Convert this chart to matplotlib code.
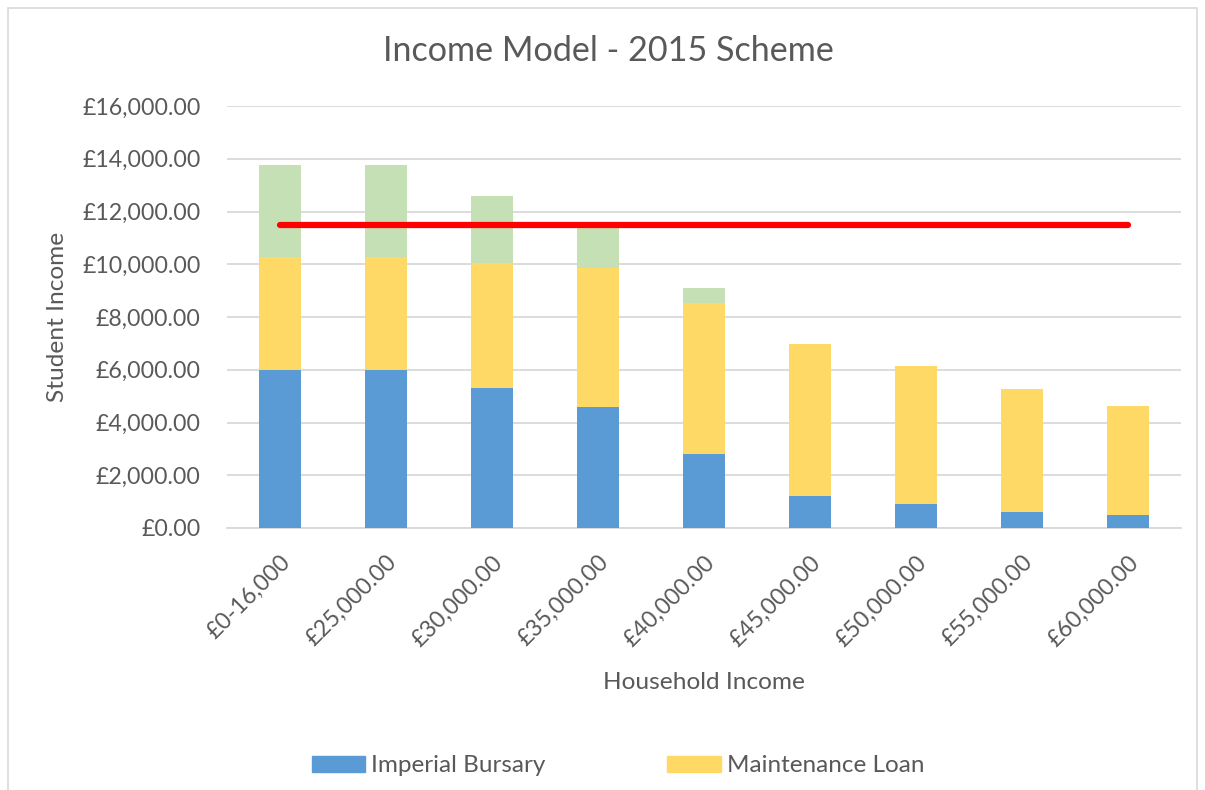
import matplotlib
matplotlib.use("Agg")
import matplotlib.pyplot as plt
import numpy as np
from matplotlib.patches import Rectangle, Patch
from matplotlib.ticker import FuncFormatter

categories = ["£0-16,000", "£25,000.00", "£30,000.00", "£35,000.00", "£40,000.00",
              "£45,000.00", "£50,000.00", "£55,000.00", "£60,000.00"]
imperial_bursary = [6000, 6000, 5300, 4600, 2800, 1200, 900, 600, 500]
maintenance_loan = [4290, 4290, 4760, 5250, 5730, 5780, 5240, 4680, 4130]
other_support = [3470, 3470, 2530, 1520, 570, 0, 0, 0, 0]
threshold = [11500] * 9

plt.rcParams['font.family'] = ['Lato', 'DejaVu Sans']
txt = '#595959'
grid = '#d9d9d9'

fig = plt.figure(figsize=(12.05, 7.9), dpi=100)
ax = fig.add_axes([227/1205, 1-528/790, (1181-227)/1205, (528-106)/790])

x = np.arange(len(categories))
w = 0.4
ax.bar(x, imperial_bursary, w, color='#5B9BD5', zorder=3)
ax.bar(x, maintenance_loan, w, bottom=imperial_bursary, color='#FFD966', zorder=3)
bot2 = np.array(imperial_bursary) + np.array(maintenance_loan)
ax.bar(x, other_support, w, bottom=bot2, color='#C5E0B4', zorder=3)
ax.plot(x, threshold, color='#FF0000', lw=4.5, solid_capstyle='round', zorder=4)

ax.set_xlim(-0.5, 8.5)
ax.set_ylim(0, 16000)
ax.set_yticks(np.arange(0, 16001, 2000))
ax.yaxis.set_major_formatter(FuncFormatter(lambda v, p: f"£{v:,.2f}"))
ax.grid(axis='y', color=grid, lw=1.3, zorder=0)
for s in ['top', 'right', 'left']:
    ax.spines[s].set_visible(False)
ax.spines['bottom'].set_color(grid)
ax.spines['bottom'].set_linewidth(1.3)
ax.tick_params(axis='both', length=0, colors=txt, labelsize=16.7)
ax.tick_params(axis='y', pad=19)
ax.set_xticks(x)
ax.set_xticklabels(categories, rotation=45, ha='right', rotation_mode='anchor')
for lbl in ax.get_xticklabels():
    lbl.set_color(txt)
ax.tick_params(axis='x', pad=17)

ax.set_xlabel("Household Income", fontsize=17.6, color=txt, labelpad=16)
ax.set_ylabel("Student Income", fontsize=17.6, color=txt, labelpad=10)
fig.text(608/1205, 1-51/790, "Income Model - 2015 Scheme", fontsize=24.6, color=txt,
         ha='center', va='center')

handles = [Patch(color='#5B9BD5', label='Imperial Bursary'),
           Patch(color='#FFD966', label='Maintenance Loan')]
leg = fig.legend(handles=handles, loc='center', bbox_to_anchor=(618/1205, 1-766/790),
                 ncol=2, frameon=False, fontsize=17.5, handlelength=2.2, handleheight=0.6,
                 columnspacing=5.0, handletextpad=0.25)
for t in leg.get_texts():
    t.set_color(txt)

fig.patches.append(Rectangle((8/1205, -0.01), (1197-8)/1205, 1-8/790 + 0.01,
                             transform=fig.transFigure, fill=False, edgecolor='#d9d9d9', lw=1.2))

fig.savefig("out.png", dpi=100, facecolor='white')
